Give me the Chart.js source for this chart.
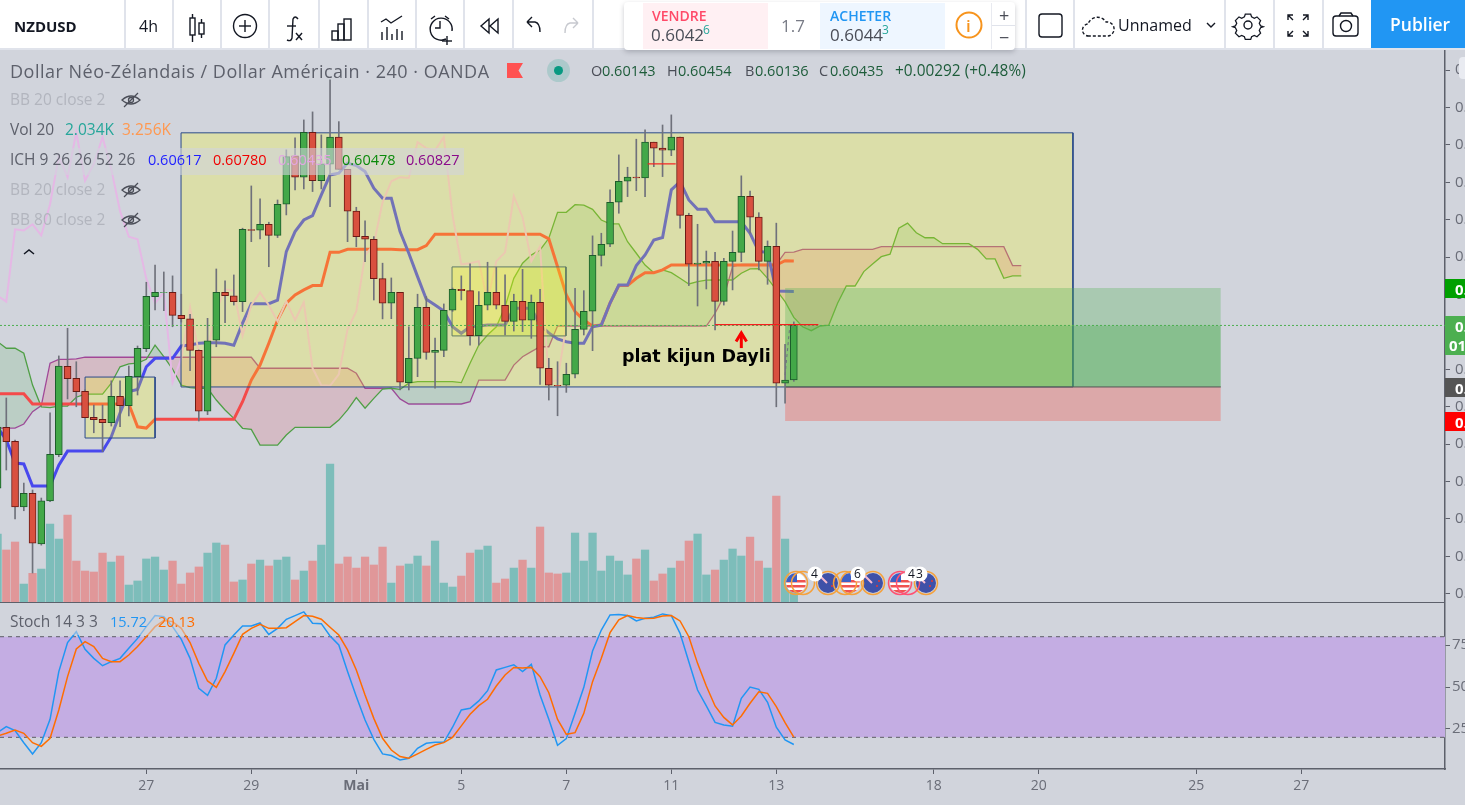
<!DOCTYPE html>
<html lang="fr">
<head>
<meta charset="utf-8">
<title>NZDUSD</title>
<script src="https://cdn.jsdelivr.net/npm/chart.js@4/dist/chart.umd.min.js"></script>
<style>
  html, body { margin: 0; width: 1465px; height: 805px; overflow: hidden; background: #d1d4dc; font-family: "Open Sans", sans-serif; }
  canvas { position: absolute; left: 0; }
  #priceChart { top: 50px; }
  #stochChart { top: 602px; }
  .t { position: absolute; white-space: nowrap; transform: translateY(-50%); line-height: 1; }
  .box { position: absolute; }
  svg { position: absolute; overflow: visible; }
  #toolbar { position: absolute; left: 0; top: 0; width: 1465px; height: 48px; background: #fff; border-bottom: 2px solid #e0e3eb; }
  .sep { position: absolute; top: 0; width: 2px; height: 48px; background: #e0e3eb; }
  .ic { fill: none; stroke: #131722; stroke-width: 1.4; }
</style>
</head>
<body>
<canvas id="priceChart" width="1510" height="552" style="width:1510px;height:552px"></canvas>
<canvas id="stochChart" width="1510" height="203" style="width:1510px;height:203px"></canvas>

<div id="toolbar"></div>

<!-- calendrier economique -->
<svg id="events" style="left:0;top:0" width="1465" height="805">
  <defs>
    <g id="us" stroke="none"><clipPath id="cu"><circle r="10"/></clipPath><g clip-path="url(#cu)"><rect x="-10" y="-10" width="20" height="20" fill="#fff"/><rect x="-10" y="-3" width="20" height="2.5" fill="#ef5350"/><rect x="-10" y="2" width="20" height="2.5" fill="#ef5350"/><rect x="-10" y="7" width="20" height="3" fill="#ef5350"/><rect x="-10" y="-10" width="11" height="9" fill="#3d5fc4"/></g></g>
    <g id="nz" stroke="none"><circle r="10" fill="#3f51a8"/><path d="M-8 -7 l7 7" stroke="#f8bbd0" stroke-width="2"/><circle cx="4" cy="3" r="1" fill="#e53935"/><circle cx="6" cy="-2" r="1" fill="#e53935"/></g>
  </defs>
  <use href="#us" x="796" y="583"/><use href="#nz" x="828" y="583"/><use href="#us" x="850" y="583"/><use href="#nz" x="873" y="583"/><use href="#us" x="900" y="583"/><use href="#nz" x="926" y="583"/>
  <g fill="none" stroke="#f5a13c" stroke-width="1.5">
    <circle cx="796" cy="583" r="11.5"/><circle cx="803" cy="583" r="11.5"/>
    <circle cx="828" cy="583" r="11.5"/>
    <circle cx="845" cy="583" r="11.5"/><circle cx="852" cy="583" r="11.5"/>
    <circle cx="873" cy="583" r="11.5"/>
    <circle cx="926" cy="583" r="11.5"/>
  </g>
  <g fill="none" stroke="#ff5072" stroke-width="1.5"><circle cx="900" cy="583" r="11.5"/><circle cx="908" cy="583" r="11.5"/></g>
  <g fill="#fff"><circle cx="815" cy="574" r="7.5"/><circle cx="858" cy="574" r="7.5"/><circle cx="912" cy="574" r="7.5"/><circle cx="920" cy="574" r="7.5"/></g>
</svg>

<div id="overlay"></div>

<svg id="toolIcons" style="left:0;top:0" width="1465" height="50">
  <!-- bougies -->
  <g class="ic"><rect x="190" y="18" width="5" height="17"/><line x1="192.5" y1="14" x2="192.5" y2="18"/><line x1="192.5" y1="35" x2="192.5" y2="42"/><rect x="199" y="23" width="5" height="11"/><line x1="201.5" y1="19" x2="201.5" y2="23"/><line x1="201.5" y1="34" x2="201.5" y2="38"/></g>
  <!-- ajouter -->
  <g class="ic"><circle cx="245" cy="26" r="11.5"/><line x1="245" y1="20" x2="245" y2="32"/><line x1="239" y1="26" x2="251" y2="26"/></g>
  <!-- fx -->
  <g class="ic"><path d="M298 19 q-3 -4 -5 0 l-1 19 q-1 4 -5 2"/><line x1="287" y1="26" x2="296" y2="26"/><line x1="296" y1="33" x2="302" y2="40"/><line x1="302" y1="33" x2="296" y2="40"/></g>
  <!-- barres -->
  <g class="ic"><rect x="332" y="31" width="6" height="9"/><rect x="338" y="24" width="6" height="16"/><rect x="344" y="19" width="7" height="21"/></g>
  <!-- indicateurs -->
  <g class="ic"><path d="M381 22 l5 -3 l5 4 l11 -7"/><line x1="382" y1="40" x2="382" y2="32"/><line x1="387" y1="40" x2="387" y2="27"/><line x1="392" y1="40" x2="392" y2="34"/><line x1="397" y1="40" x2="397" y2="29"/><line x1="402" y1="40" x2="402" y2="31"/></g>
  <!-- alerte -->
  <g class="ic"><path d="M446 39 a11 11 0 1 1 6 -8"/><path d="M440 21 v7 h-5"/><path d="M431 19 l4 -3 M449 19 l-4 -3"/><line x1="447" y1="36" x2="447" y2="45"/><line x1="442" y1="41" x2="452" y2="41"/></g>
  <!-- retour -->
  <g class="ic"><path d="M489 19 l-8 7 l8 7 z M498 19 l-8 7 l8 7 z"/></g>
  <g class="ic"><path d="M532 23 h8 q5 1 5 10 M532 23 l5 -5 M532 23 l5 5" transform="translate(-5,-1)"/></g>
  <g class="ic" style="stroke:#c7c9cf"><path d="M578 23 h-8 q-5 1 -5 10 M578 23 l-5 -5 M578 23 l-5 5"/></g>
  <!-- panneau de droite -->
  <rect x="1039" y="14" width="23" height="23" rx="3" class="ic"/>
  <path d="M1089 36 a6 6 0 0 1 -1 -12 a10 10 0 0 1 18 -2 a7 7 0 0 1 2 14 z" class="ic" stroke-dasharray="3 2"/>
  <path d="M1207 23 l4 4 l4 -4" class="ic"/>
  <g class="ic"><circle cx="1248" cy="25" r="4"/><path d="M1245 13 h6 l1 3 l3 1.5 l3 -1.5 l4 4 l-1.5 3 l1.5 3 l3 1 v0 l-3 1 l-1.5 3 l1.5 3 l-4 4 l-3 -1.5 l-3 1.5 l-1 3 h-6 l-1 -3 l-3 -1.5 l-3 1.5 l-4 -4 l1.5 -3 l-1.5 -3 l-3 -1 l3 -1 l1.5 -3 l-1.5 -3 l4 -4 l3 1.5 l3 -1.5 z" transform="translate(124.8,2.5) scale(0.9)"/></g>
  <g class="ic"><path d="M1288 20 v-5 h5 M1288 15 l5 5 M1308 20 v-5 h-5 M1308 15 l-5 5 M1288 31 v5 h5 M1288 36 l5 -5 M1308 31 v5 h-5 M1308 36 l-5 -5"/></g>
  <g class="ic"><rect x="1333" y="16" width="25" height="20" rx="3"/><circle cx="1346" cy="26" r="5.5"/><path d="M1339 16 l2 -3 h10 l2 3"/></g>
</svg>

<script>
// bougies NZDUSD 4h, en 1e-5 (60435 = 0.60435)
const opens = [
  59565,59890,59815,59465,59537,59266,59497,59744,60216,60152,
  60083,59944,59933,59915,60056,60006,60161,60311,60589,60611,
  60612,60489,60471,60302,59976,60356,60612,60594,60562,60948,
  60944,60976,60917,61083,61342,61228,61468,61209,61297,61442,
  61270,61046,60912,60896,60685,60554,60612,60129,60259,60532,
  60291,60302,60516,60628,60621,60380,60543,60612,60543,60457,
  60564,60463,60559,60206,60115,60115,60174,60414,60511,60810,
  60869,61094,61206,61228,61224,61415,61383,61372,61442,61024,
  60762,60768,60778,60564,60778,60826,61126,61014,60778,60858,
  60126,60143];
const highs = [
  59929,60047,59822,59592,59555,59512,59967,60272,60420,60241,
  60090,60009,60009,60139,60139,60218,60325,60666,60758,60721,
  60700,60602,60495,60304,60473,60737,60673,60705,60955,61181,
  61112,60987,61106,61374,61438,61534,61577,61454,61748,61525,
  61270,61067,60994,60910,60768,60689,60612,60428,60602,60589,
  60368,60550,60635,60700,60764,60616,60773,60746,60705,60602,
  60735,60598,60628,60259,60241,60233,60634,60621,60914,60928,
  61160,61347,61281,61431,61481,61415,61507,61561,61442,61035,
  60976,60833,60826,60794,60940,61235,61154,61038,60887,60982,
  60334,60454];
const lows = [
  59544,59662,59400,59444,59111,59260,59492,59733,60042,60000,
  59942,59861,59760,59897,59893,59951,60063,60295,60518,60514,
  60428,60453,60193,59924,59958,60321,60450,60544,60509,60883,
  60898,60749,60905,61026,61160,61165,61151,61165,61070,61270,
  60883,60856,60776,60571,60470,60471,60090,60090,60161,60254,
  60099,60268,60510,60571,60330,60330,60518,60523,60384,60405,
  60402,60366,60120,60036,59952,60077,60154,60384,60300,60753,
  60856,61035,61124,61156,61124,61284,61231,61343,60955,60648,
  60539,60630,60411,60544,60625,60776,60928,60732,60655,60000,
  60019,60136];
const closes = [
  59892,59813,59465,59537,59270,59497,59746,60218,60150,60081,
  59942,59931,59915,60056,60006,60163,60313,60591,60612,60612,
  60489,60471,60302,59976,60353,60612,60594,60562,60949,60943,
  60976,60917,61083,61338,61228,61468,61209,61299,61442,61270,
  61046,60910,60896,60685,60554,60612,60131,60259,60532,60291,
  60302,60516,60628,60621,60380,60543,60612,60543,60457,60564,
  60463,60559,60206,60115,60112,60174,60414,60511,60810,60869,
  61094,61206,61228,61224,61415,61383,61372,61442,61024,60762,
  60768,60778,60564,60778,60826,61126,61014,60778,60858,60126,
  60143,60435];

// volume en milliers
const volumes = [
  5.53,4.23,4.88,1.46,2.33,2.68,6.34,5.12,7.07,3.33,
  2.52,2.44,3.98,3.25,3.74,1.38,1.71,3.50,3.66,2.60,
  3.33,1.46,2.36,2.85,3.98,4.80,4.63,1.63,1.79,3.09,
  3.41,2.93,3.41,3.66,1.79,2.52,3.33,4.63,11.22,3.09,
  3.66,2.76,3.66,3.01,4.47,1.54,2.93,3.09,3.74,2.93,
  4.96,1.54,1.22,2.11,3.98,4.23,4.55,1.54,1.87,2.76,
  3.41,2.76,6.10,2.36,2.28,2.36,5.61,3.33,5.61,2.52,
  3.74,3.33,2.20,3.50,4.23,1.71,2.28,2.76,3.33,4.96,
  5.53,2.20,2.60,3.41,4.31,3.74,5.28,3.33,2.76,8.62,
  5.12,2.034];

// ichimoku
const tenkan = [
  59890,59822,59699,59694,59576,59576,59576,59688,59763,59763,
  59763,59763,59763,59840,59967,60081,60093,60214,60259,60259,
  60259,60325,60330,60340,60343,60343,60340,60329,60447,60551,
  60551,60551,60570,60830,60937,60999,61022,61133,61240,61249,
  61303,61290,61258,61169,61115,61115,60937,60821,60696,60575,
  60544,60512,60428,60393,60428,60432,60437,60437,60437,60527,
  60527,60527,60437,60395,60363,60348,60340,60340,60428,60437,
  60555,60651,60651,60755,60812,60892,60905,61160,61204,61106,
  61056,61056,60989,60989,60989,60989,60928,60830,60826,60619,
  60618,60617];
const kijun = [
  60070,60070,60070,60070,60015,60015,60015,60015,60015,60015,
  60015,60015,60015,60015,60015,60015,59893,59886,59933,59933,
  59933,59933,59933,59933,59933,59933,59933,59933,60027,60143,
  60223,60340,60464,60554,60598,60625,60648,60648,60826,60826,
  60842,60842,60842,60842,60842,60842,60840,60840,60840,60862,
  60923,60923,60923,60923,60923,60923,60923,60923,60923,60923,
  60923,60923,60923,60898,60749,60598,60509,60464,60432,60437,
  60554,60648,60648,60687,60717,60717,60732,60758,60758,60758,
  60758,60758,60758,60758,60758,60758,60758,60758,60758,60758,
  60781,60780];
const chikou = [
  60594,60562,60949,60943,60976,60917,61083,61338,61228,61468,
  61209,61299,61442,61270,61046,60910,60896,60685,60554,60612,
  60131,60259,60532,60291,60302,60516,60628,60621,60380,60543,
  60612,60543,60457,60564,60463,60559,60206,60115,60112,60174,
  60414,60511,60810,60869,61094,61206,61228,61224,61415,61383,
  61372,61442,61024,60762,60768,60778,60564,60778,60826,61126,
  61014,60778,60858,60126,60143,60435];
const spanA = [
  60348,60313,60313,60286,60116,60000,59995,60004,60004,60051,
  60068,60068,60068,60126,60214,60229,60233,60254,60330,60268,
  60202,60116,60102,60099,60099,60036,59983,59938,59885,59879,
  59795,59795,59795,59849,59890,59890,59890,59890,59890,59929,
  59983,60049,59992,60045,60095,60099,60093,60126,60134,60134,
  60134,60134,60134,60129,60233,60330,60384,60428,60535,60687,
  60768,60812,60839,60901,61040,61040,61081,61078,61056,60999,
  60978,60978,60883,60821,60758,60717,60732,60717,60687,60657,
  60669,60677,60678,60678,60678,60714,60737,60739,60687,60625,
  60562,60478,60428,60407,60432,60437,60554,60646,60646,60723,
  60764,60803,60816,60955,60982,60931,60904,60904,60872,60872,
  60872,60872,60842,60791,60791,60687,60700,60700];
const spanB = [
  59886,59886,59886,59908,59974,60006,60233,60254,60254,60256,
  60265,60265,60265,60265,60265,60265,60265,60265,60265,60265,
  60265,60265,60265,60265,60265,60265,60265,60265,60265,60265,
  60206,60206,60206,60206,60206,60206,60206,60206,60206,60206,
  60206,60179,60099,60099,60099,60099,60042,60015,60015,60015,
  60015,60015,60015,60015,60027,60143,60143,60143,60143,60223,
  60268,60295,60321,60321,60432,60432,60432,60432,60432,60432,
  60432,60432,60432,60432,60432,60432,60432,60432,60432,60432,
  60432,60432,60500,60589,60749,60762,60762,60762,60762,60762,
  60826,60827,60842,60842,60842,60842,60842,60842,60842,60842,
  60842,60856,60856,60856,60856,60856,60856,60856,60856,60856,
  60856,60856,60856,60856,60856,60856,60755,60755];

// stochastique
const stochK = [
  22.8,26.4,24.0,16.8,10.1,16.8,30.7,59.2,76.5,83.0,
  72.5,67.1,62.7,65.1,67.1,73.1,79.0,86.0,92.6,92.0,
  86.0,78.4,67.1,49.2,45.0,55.2,75.1,81.0,86.4,86.4,
  88.2,81.4,85.0,90.4,92.6,94.8,88.0,87.8,80.4,75.1,
  59.2,44.3,30.3,18.8,10.1,9.1,6.5,7.5,13.4,16.4,
  17.0,17.0,26.0,36.3,37.3,41.7,47.8,60.2,61.7,63.3,
  59.2,63.5,45.2,30.7,15.2,19.2,34.3,49.8,71.5,84.0,
  93.0,93.2,92.6,89.4,91.0,91.6,93.6,92.6,82.0,65.1,
  48.2,38.7,28.9,27.4,26.6,43.3,50.0,48.6,40.9,26.0,
  18.4,15.72];
const stochD = [
  20.8,22.4,24.4,22.4,16.8,14.6,19.4,36.3,56.2,72.7,
  77.1,74.1,67.1,65.1,65.1,69.1,74.1,80.0,86.0,89.6,
  89.0,85.0,76.5,64.1,53.6,49.8,59.2,70.1,81.4,85.0,
  87.4,85.0,85.0,85.4,89.0,92.6,92.2,90.4,85.6,81.0,
  72.1,60.2,45.2,31.3,19.4,12.4,8.5,7.5,10.1,12.8,
  15.4,16.8,20.0,26.8,33.7,38.9,42.7,50.6,57.2,61.7,
  61.4,61.7,56.2,46.6,30.7,21.8,22.8,34.3,53.2,67.1,
  82.4,90.0,92.6,91.4,90.8,91.0,92.4,92.6,89.4,80.0,
  64.1,50.6,38.7,31.9,27.4,32.7,40.3,47.2,46.2,38.3,
  28.7,20.13];
const stochBand = [20, 80];

// axes
const priceTicks = [59000,59200,59400,59600,59800,60000,60200,60400,60600,60800,61000,61200,61400,61600,61800];
const stochTicks = [25, 50, 75];
const timeTicks = [17, 29, 41, 53, 65, 77, 89, 107, 119, 137, 149];
const timeLabels = ['27', '29', 'Mai', '5', '7', '11', '13', '18', '20', '25', '27'];
const xMin = 0.28, xMax = 165.42;
const priceMin = 58956, priceMax = 61908;
const volMax = 44.9;
const lastPrice = 60435;

// dessins: [barre debut, barre fin, haut, bas]
const bigBox = [20.97, 122.9, 61465, 60106];
const leftBox = [10, 18, 60159, 59833];
const midBox = [51.94, 64.96, 60748, 60379];
const profitZone = [90, 139.8, 60635, 60106];
const stopZone = [90, 139.8, 60106, 59924];
// traits rouges: [barre debut, barre fin, prix]
const flatA = [74.3, 77.5, 61299];
const flatB = [82, 93.8, 60439];
const arrowShaft = [[85, 60314], [85, 60395]];
const arrowHead = [[84.4, 60349], [85, 60395], [85.6, 60349]];
const projection = [[90, 60170], [90.5, 60411], [91, 60435]];

const bx = document.getElementById('overlay');
const pts = (arr) => arr.map((v, i) => ({ x: i, y: v }));
const xy = (arr) => arr.map((p) => ({ x: p[0], y: p[1] }));
const line = (data, color, width, order, extra) => Object.assign({
  type: 'line', data: data, borderColor: color, borderWidth: width, pointRadius: 0, tension: 0,
  fill: false, order: order, xAxisID: 'x', yAxisID: 'y'
}, extra);
// rectangle = ligne du haut remplie jusqu'au bas + contour
function rectFill(b, color, order) {
  return line([{ x: b[0], y: b[2] }, { x: b[1], y: b[2] }], 'transparent', 0, order, { fill: { value: b[3] }, backgroundColor: color });
}
function rectLine(b, color, order) {
  return line([{ x: b[0], y: b[2] }, { x: b[1], y: b[2] }, { x: b[1], y: b[3] }, { x: b[0], y: b[3] }, { x: b[0], y: b[2] }], color, 1, order);
}

const isUp = opens.map((o, i) => closes[i] >= o);
const yellow = 'rgba(255,255,0,0.23)';

const priceDatasets = [
  // index 0 et 1: nuage
  line(pts(spanA), '#4f9f45', 1.3, 90, { fill: { target: 1, above: 'rgba(76,175,80,0.16)', below: 'rgba(233,50,70,0.15)' } }),
  line(pts(spanB), '#a0489f', 1.3, 90),
  { type: 'bar', data: pts(volumes), backgroundColor: isUp.map((u) => u ? '#7dbdba' : '#e09799'), barThickness: 7.6, grouped: false, order: 100, xAxisID: 'x', yAxisID: 'yVol' },
  line(pts(chikou), '#e5b8e5', 2, 80),
  line(pts(tenkan), '#4848ee', 3, 80),
  line(pts(kijun), '#f44a4a', 3, 80),
  rectFill(bigBox, yellow, 70), rectFill(leftBox, yellow, 70), rectFill(midBox, yellow, 70),
  rectLine(bigBox, '#2a4a8a', 69), rectLine(leftBox, '#2a4a8a', 69), rectLine(midBox, '#5f7a66', 69),
  rectFill([profitZone[0], profitZone[1], profitZone[2], lastPrice], 'rgba(76,175,80,0.3)', 60),
  rectFill([profitZone[0], profitZone[1], lastPrice, profitZone[3]], 'rgba(76,175,80,0.56)', 60),
  rectFill(stopZone, 'rgba(244,67,54,0.3)', 60),
  line([{ x: profitZone[0], y: profitZone[3] }, { x: profitZone[1], y: profitZone[3] }], '#555', 1, 59),
  { type: 'bar', data: lows.map((l, i) => ({ x: i, y: [l, highs[i]] })), backgroundColor: '#6f717b', barThickness: 1, grouped: false, order: 50, xAxisID: 'x', yAxisID: 'y' },
  { type: 'bar', data: opens.map((o, i) => ({ x: i, y: [o, closes[i]] })), backgroundColor: isUp.map((u) => u ? '#43a848' : '#d9503f'),
    borderColor: isUp.map((u) => u ? '#1d5c2b' : '#6b1a14'), borderWidth: 1, borderSkipped: false, barThickness: 7, grouped: false, order: 40, xAxisID: 'x', yAxisID: 'y' },
  line([{ x: xMin, y: lastPrice }, { x: xMax, y: lastPrice }], '#4caf50', 1, 30, { borderDash: [2, 2] }),
  line([{ x: flatA[0], y: flatA[2] }, { x: flatA[1], y: flatA[2] }], '#f41f1f', 1.2, 20),
  line([{ x: flatB[0], y: flatB[2] }, { x: flatB[1], y: flatB[2] }], '#f41f1f', 1.2, 20),
  line(xy(arrowShaft), '#f80000', 3, 10),
  line(xy(arrowHead), '#f80000', 3, 10),
  line(xy(projection), '#6f717b', 1, 10, { borderDash: [3, 3] })
];

function fitY(s) { s.width = 65; s.paddingTop = 0; s.paddingBottom = 0; }
function fitX(s) { s.height = 36; s.paddingLeft = 0; s.paddingRight = 0; }
const tickFont = { family: '"Open Sans", sans-serif', size: 15 };
const common = { responsive: false, maintainAspectRatio: false, animation: false, events: [], layout: { padding: 0 }, plugins: { legend: { display: false }, tooltip: { enabled: false } } };

new Chart(document.getElementById('priceChart'), {
  type: 'bar',
  data: { datasets: priceDatasets },
  options: Object.assign({}, common, {
    scales: {
      x: { type: 'linear', min: xMin, max: xMax, offset: false, display: false },
      y: {
        position: 'right', min: priceMin, max: priceMax, afterFit: fitY,
        afterBuildTicks: (s) => { s.ticks = priceTicks.map((v) => ({ value: v })); },
        border: { color: '#5d606b', width: 1.5 },
        grid: { drawOnChartArea: false, color: '#5d606b', tickLength: 5 },
        ticks: { padding: 5, color: '#6a6d78', font: tickFont, autoSkip: false, callback: (v) => (v / 100000).toFixed(4) }
      },
      yVol: { display: false, min: 0, max: volMax }
    }
  })
});

new Chart(document.getElementById('stochChart'), {
  type: 'line',
  data: {
    datasets: [
      line([{ x: xMin, y: stochBand[1] }, { x: xMax, y: stochBand[1] }], 'transparent', 0, 9, { fill: { value: stochBand[0] }, backgroundColor: '#c4ade3' }),
      line([{ x: xMin, y: stochBand[1] }, { x: xMax, y: stochBand[1] }], '#5d5d66', 1, 8, { borderDash: [4, 4] }),
      line([{ x: xMin, y: stochBand[0] }, { x: xMax, y: stochBand[0] }], '#5d5d66', 1, 8, { borderDash: [4, 4] }),
      line(pts(stochK), '#2196f3', 1.5, 5),
      line(pts(stochD), '#ff6d00', 1.5, 4)
    ]
  },
  options: Object.assign({}, common, {
    scales: {
      x: {
        type: 'linear', min: xMin, max: xMax, afterFit: fitX,
        afterBuildTicks: (s) => { s.ticks = timeTicks.map((v) => ({ value: v })); },
        border: { color: '#5d606b', width: 1.5 },
        grid: { drawOnChartArea: false, color: '#5d606b', tickLength: 5 },
        ticks: {
          padding: 4, color: '#6a6d78', autoSkip: false, maxRotation: 0,
          font: (c) => Object.assign({}, tickFont, { size: 14, weight: timeLabels[c.index] === 'Mai' ? 'bold' : 'normal' }),
          callback: (v, i) => timeLabels[i]
        }
      },
      y: {
        position: 'right', min: 1.1, max: 100.7, afterFit: fitY,
        afterBuildTicks: (s) => { s.ticks = stochTicks.map((v) => ({ value: v })); },
        border: { color: '#5d606b', width: 1.5 },
        grid: { drawOnChartArea: false, color: '#5d606b', tickLength: 5 },
        ticks: { padding: 2, color: '#6a6d78', font: tickFont, autoSkip: false }
      }
    }
  })
});

// textes et habillage TradingView
function label(text, x, y, color, size, weight, extra) {
  const d = document.createElement('div');
  d.className = 't';
  d.textContent = text;
  d.style.cssText = 'left:' + x + 'px;top:' + y + 'px;color:' + color + ';font-size:' + size + 'px;font-weight:' + (weight || 400) + ';' + (extra || '');
  bx.appendChild(d);
}
function block(x, y, w, h, color, extra) {
  const d = document.createElement('div');
  d.className = 'box';
  d.style.cssText = 'left:' + x + 'px;top:' + y + 'px;width:' + w + 'px;height:' + h + 'px;background:' + color + ';' + (extra || '');
  bx.appendChild(d);
}

const bar = document.getElementById('toolbar');
[124, 172, 220, 268, 318, 367, 415, 463, 512, 592, 1025, 1073, 1224, 1273, 1322].forEach((x) => {
  const s = document.createElement('div');
  s.className = 'sep';
  s.style.left = x + 'px';
  bar.appendChild(s);
});

block(0, 148, 464, 27, 'rgba(209,212,220,0.6)');
block(4, 611, 200, 24, 'rgba(209,212,220,0.55)');
block(0, 601.5, 1445, 1.5, '#5d606b');
block(1459, 57, 10, 22, '#e9ebf1', 'border-radius:4px');

// panneau d'ordre
block(624, 2, 391, 48, '#fff', 'border-radius:4px;box-shadow:0 2px 5px rgba(60,65,80,0.28)');
block(643, 3, 125, 46, '#fff0f3');
block(820, 3, 125, 46, '#eef6ff');
block(991, 3, 1, 46, '#e8eaf0');
block(992, 25, 23, 1, '#e0e3eb');
block(1371, 0, 94, 48, '#2196f3');

label('NZDUSD', 14, 26, '#131722', 15, 700);
label('4h', 139, 26, '#131722', 16);
label('VENDRE', 652, 16, '#ff4a68', 14, 600);
label('0.6042', 651, 34, '#4a4d57', 17);
label('6', 703, 30, '#26a69a', 12);
label('1.7', 781, 25, '#787b86', 17);
label('ACHETER', 830, 16, '#2196f3', 14, 600);
label('0.6044', 830, 34, '#4a4d57', 17);
label('3', 882, 30, '#26a69a', 12);
label('i', 966, 25, '#f7941d', 17, 600);
label('+', 999, 15, '#4a4d57', 18);
label('\u2212', 999, 37, '#4a4d57', 18);
label('Unnamed', 1118, 25, '#131722', 16);
label('Publier', 1390, 25, '#fff', 17.5, 600);

label('Dollar Néo-Zélandais / Dollar Américain · 240 · OANDA', 10, 71, '#5d606b', 18, 400, 'letter-spacing:0.5px');
block(507, 63, 16, 15, '#ff5252', 'clip-path:polygon(0 0,100% 0,72% 50%,100% 100%,0 100%)');
block(547, 59, 23, 23, 'rgba(8,153,129,0.18)', 'border-radius:50%');
block(554, 66, 9, 9, '#089981', 'border-radius:50%');
label('O', 591, 71, '#4a4d57', 14.5); label('0.60143', 602, 71, '#1d5c3a', 14.5);
label('H', 667, 71, '#4a4d57', 14.5); label('0.60454', 678, 71, '#1d5c3a', 14.5);
label('B', 745, 71, '#4a4d57', 14.5); label('0.60136', 755, 71, '#1d5c3a', 14.5);
label('C', 819, 71, '#4a4d57', 14.5); label('0.60435', 830, 71, '#1d5c3a', 14.5);
label('+0.00292 (+0.48%)', 895, 71, '#1d5c3a', 15.4);

label('BB 20 close 2', 10, 100, '#b2b5be', 15.5);
label('Vol 20', 10, 130, '#5d606b', 15.5);
label('2.034K', 65, 130, '#26a69a', 15.5);
label('3.256K', 122, 130, '#ff9850', 15.5);
label('ICH 9 26 26 52 26', 10, 160, '#5d606b', 15.5);
label('0.60617', 148, 160, '#1f1fff', 14.5);
label('0.60780', 213, 160, '#f00000', 14.5);
label('0.60435', 278, 160, '#e3a6e3', 14.5);
label('0.60478', 342, 160, '#0a8a0a', 14.5);
label('0.60827', 406, 160, '#8a0a8a', 14.5);
label('BB 20 close 2', 10, 190, '#b2b5be', 15.5);
label('BB 80 close 2', 10, 220, '#b2b5be', 15.5);
label('Stoch 14 3 3', 10, 622, '#5d606b', 15.5);
label('15.72', 110, 622, '#2196f3', 14.5);
label('20.13', 158, 622, '#ff6d00', 14.5);

label('plat kijun Dayli', 622, 357, '#000', 17.5, 700, 'font-family:"DejaVu Sans",sans-serif');

// etiquettes de prix
[[279, 19, '#00a000', '0.60635'], [316, 19, '#4caf50', '0.60435'], [335, 20, '#4caf50', '01:12:45'], [378, 19, '#555', '0.60103'], [412, 19, '#f00', '0.59924']].forEach((b) => {
  block(1445, b[0], 20, b[1], b[2]);
  label(b[3], b[3].startsWith('01') ? 1449 : 1455, b[0] + b[1] / 2, '#fff', 15, 700);
});

label('4', 811, 574, '#131722', 12);
label('6', 854, 574, '#131722', 12);
label('4', 908, 574, '#131722', 12);
label('3', 916, 574, '#131722', 12);
</script>

<svg style="left:0;top:0" width="1465" height="260">
  <g fill="none" stroke="#4a4d57" stroke-width="1.3">
    <g><path d="M122 100 q9 -8 18 0 q-9 8 -18 0 z"/><circle cx="131" cy="100" r="2.5"/><line x1="124" y1="107" x2="138" y2="93"/></g>
    <g transform="translate(0,90)"><path d="M122 100 q9 -8 18 0 q-9 8 -18 0 z"/><circle cx="131" cy="100" r="2.5"/><line x1="124" y1="107" x2="138" y2="93"/></g>
    <g transform="translate(0,120)"><path d="M122 100 q9 -8 18 0 q-9 8 -18 0 z"/><circle cx="131" cy="100" r="2.5"/><line x1="124" y1="107" x2="138" y2="93"/></g>
    <path d="M24 254 l5 -4 l5 4" stroke="#131722" stroke-width="1.5"/>
    <circle cx="969" cy="25" r="12.5" stroke="#f7941d" stroke-width="2"/>
  </g>
</svg>
</body>
</html>
